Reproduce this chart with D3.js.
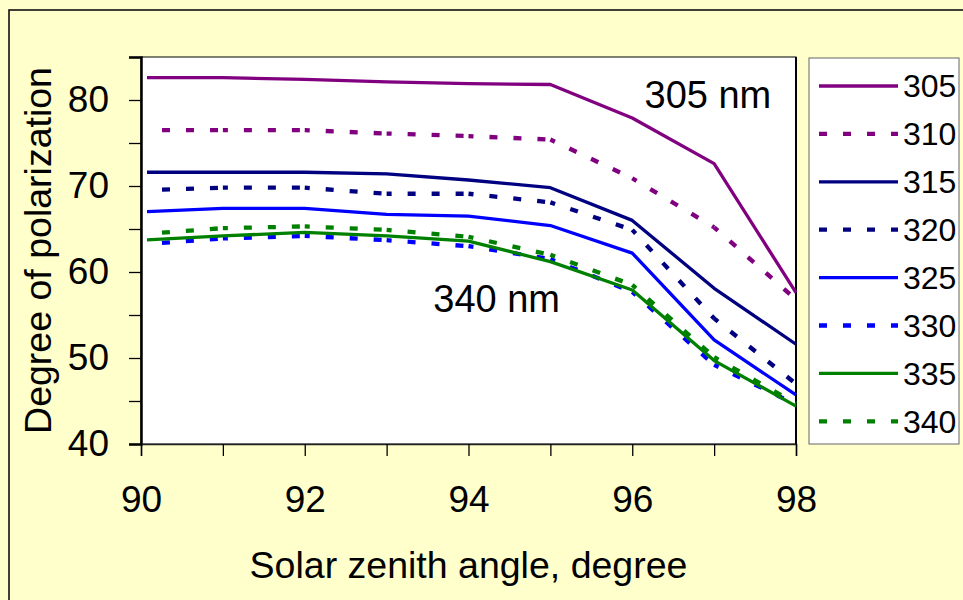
<!DOCTYPE html>
<html>
<head>
<meta charset="utf-8">
<script src="https://cdn.jsdelivr.net/npm/d3@7"></script>
<style>
  html, body { margin: 0; padding: 0; background: #ffffcc; }
  svg { display: block; font-family: Arial, "Liberation Sans", sans-serif; }
</style>
</head>
<body>
<svg id="chart" width="963" height="600"></svg>
<script>
// ---- data ----
const zenithAngles = [90, 91, 92, 93, 94, 95, 96, 97, 98];
const wavelengths = ["305", "310", "315", "320", "325", "330", "335", "340"];
const pol305 = [82.6, 82.6, 82.4, 82.1, 81.9, 81.8, 77.9, 72.6, 57.6];
const pol310 = [76.5, 76.5, 76.5, 76.1, 75.8, 75.4, 70.9, 65.2, 56.8];
const pol315 = [71.6, 71.6, 71.6, 71.4, 70.7, 69.8, 66.0, 58.1, 51.6];
const pol320 = [69.5, 69.8, 69.8, 69.1, 69.1, 68.1, 64.9, 54.6, 47.0];
const pol325 = [67.0, 67.4, 67.4, 66.7, 66.5, 65.4, 62.2, 52.1, 45.7];
const pol330 = [63.2, 63.9, 64.2, 63.7, 63.0, 61.5, 57.7, 49.2, 44.6];
const pol335 = [63.7, 64.2, 64.6, 64.2, 63.6, 61.2, 57.9, 49.7, 44.4];
const pol340 = [64.4, 65.1, 65.3, 64.9, 64.1, 62.0, 58.5, 50.1, 44.7];
const xTickValues = [90, 91, 92, 93, 94, 95, 96, 97, 98];
const xTickLabels = [90, 92, 94, 96, 98];
const yTickValues = [40, 45, 50, 55, 60, 65, 70, 75, 80, 85];
const yTickLabels = [40, 50, 60, 70, 80];
const annotations = [{text: "305 nm", x: 96.15, y: 79.1}, {text: "340 nm", x: 93.57, y: 55.4}];

// ---- styles (kept apart from data) ----
const seriesValues = [pol305, pol310, pol315, pol320, pol325, pol330, pol335, pol340];
const seriesColors = ["#800080", "#800080", "#000080", "#000080", "#0000ff", "#0000ff", "#008000", "#008000"];
const seriesDashed = [false, true, false, true, false, true, false, true];

const svg = d3.select("#chart");
const margin = {left: 141, right: 167, top: 57, bottom: 156};
const W = 963, H = 600;

// chart area background + outer frame
svg.append("rect").attr("x", 9).attr("y", 10).attr("width", 1000).attr("height", 1000)
  .attr("fill", "#ffffcc").attr("stroke", "#000").attr("stroke-width", 1.5);

const x = d3.scaleLinear().domain([90, 98]).range([margin.left, W - margin.right]);
const y = d3.scaleLinear().domain([40, 85]).range([H - margin.bottom, margin.top]);

// plot area
svg.append("rect")
  .attr("x", x(90)).attr("y", y(85))
  .attr("width", x(98) - x(90)).attr("height", y(40) - y(85))
  .attr("fill", "#fff").attr("stroke", "#000").attr("stroke-width", 1);
svg.append("line").attr("x1", x(98)).attr("x2", x(98)).attr("y1", y(85)).attr("y2", y(40))
  .attr("stroke", "#000").attr("stroke-width", 2);

// clip for series
svg.append("clipPath").attr("id", "plotclip").append("rect")
  .attr("x", x(90) + 6).attr("y", y(85)).attr("width", x(98) - x(90) - 6 + 2).attr("height", y(40) - y(85));

const gSeries = svg.append("g").attr("clip-path", "url(#plotclip)");
const line = d3.line().x(d => x(d[0])).y(d => y(d[1]));

seriesValues.forEach((vals, i) => {
  const pts = zenithAngles.map((a, k) => [a, vals[k]]);
  if (!seriesDashed[i]) {
    gSeries.append("path").attr("d", line(pts)).attr("fill", "none")
      .attr("stroke", seriesColors[i]).attr("stroke-width", 3.3).attr("stroke-linejoin", "round");
  } else {
    for (let k = 0; k < pts.length - 1; k++) {
      gSeries.append("path").attr("d", line([pts[k], pts[k + 1]])).attr("fill", "none")
        .attr("stroke", seriesColors[i]).attr("stroke-width", 4.3)
        .attr("stroke-dasharray", "8,16").attr("stroke-dashoffset", 3);
    }
  }
});

// axes
const yAxis = d3.axisLeft(y).tickValues(yTickValues)
  .tickFormat(d => yTickLabels.includes(d) ? d : "").tickSize(12).tickPadding(20);
const gy = svg.append("g").attr("transform", `translate(${x(90)},0)`).call(yAxis);
gy.select(".domain").attr("stroke", "#000").attr("stroke-width", 2.5);
gy.selectAll(".tick line").attr("stroke", "#000").attr("stroke-width", 1.3);
gy.selectAll(".tick text").attr("font-size", 37).attr("fill", "#000")
  .attr("font-family", "Arial, 'Liberation Sans', sans-serif");

const xAxis = d3.axisBottom(x).tickValues(xTickValues)
  .tickFormat(d => xTickLabels.includes(d) ? d : "").tickSize(12).tickPadding(30);
const gx = svg.append("g").attr("transform", `translate(0,${y(40)})`).call(xAxis);
gx.select(".domain").attr("stroke", "#222").attr("stroke-width", 1.5);
gx.selectAll(".tick line").attr("stroke", "#000").attr("stroke-width", 1.3);
gx.selectAll(".tick text").attr("font-size", 37).attr("fill", "#000")
  .attr("font-family", "Arial, 'Liberation Sans', sans-serif");

// axis titles
svg.append("text").attr("x", (x(90) + x(98)) / 2).attr("y", 578)
  .attr("text-anchor", "middle").attr("font-size", 37.5).text("Solar zenith angle, degree");
svg.append("text")
  .attr("transform", `translate(51,${(y(40) + y(85)) / 2}) rotate(-90)`)
  .attr("text-anchor", "middle").attr("font-size", 37.5).text("Degree of polarization");

// annotations
annotations.forEach(a => {
  svg.append("text").attr("x", x(a.x)).attr("y", y(a.y)).attr("font-size", 38).text(a.text);
});

// legend
const lg = svg.append("g");
lg.append("rect").attr("x", 809).attr("y", 58).attr("width", 150).attr("height", 386)
  .attr("fill", "#fff").attr("stroke", "#666").attr("stroke-width", 1);
wavelengths.forEach((w, i) => {
  const cy = 86 + i * 47.9;
  lg.append("line").attr("x1", 819).attr("x2", 898).attr("y1", cy).attr("y2", cy)
    .attr("stroke", seriesColors[i]).attr("stroke-width", seriesDashed[i] ? 4.3 : 3.3)
    .attr("stroke-dasharray", seriesDashed[i] ? "8,16" : null);
  lg.append("text").attr("x", 903).attr("y", cy).attr("dy", "0.35em")
    .attr("font-size", 32).text(w);
});
</script>
</body>
</html>
